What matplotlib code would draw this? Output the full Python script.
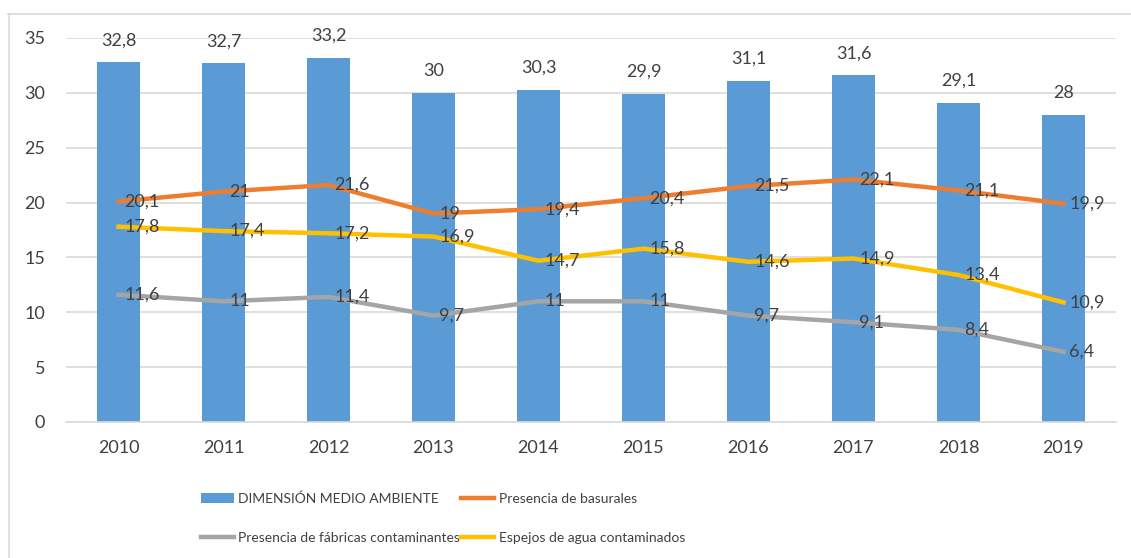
import matplotlib.pyplot as plt
from matplotlib.lines import Line2D
import numpy as np

years = ['2010', '2011', '2012', '2013', '2014', '2015', '2016', '2017', '2018', '2019']
dimension = [32.8, 32.7, 33.2, 30, 30.3, 29.9, 31.1, 31.6, 29.1, 28]
basurales = [20.1, 21, 21.6, 19, 19.4, 20.4, 21.5, 22.1, 21.1, 19.9]
fabricas = [11.6, 11, 11.4, 9.7, 11, 11, 9.7, 9.1, 8.4, 6.4]
espejos = [17.8, 17.4, 17.2, 16.9, 14.7, 15.8, 14.6, 14.9, 13.4, 10.9]

plt.rcParams['font.family'] = ['Lato', 'DejaVu Sans']
txt = '#404040'

def fmt(v):
    s = ('%g' % v)
    return s.replace('.', ',')

fig = plt.figure(figsize=(11.31, 5.58), dpi=100)
ax = fig.add_axes([66 / 1131, 136 / 558, 1050 / 1131, 384 / 558])

x = np.arange(len(years))
ax.bar(x, dimension, width=0.41, color='#5B9BD5', zorder=2,
       label='DIMENSIÓN MEDIO AMBIENTE')
ax.plot(x, basurales, color='#ED7D31', lw=3.2, zorder=3, label='Presencia de basurales')
ax.plot(x, fabricas, color='#A5A5A5', lw=3.2, zorder=3, label='Presencia de fábricas contaminantes')
ax.plot(x, espejos, color='#FFC000', lw=3.2, zorder=3, label='Espejos de agua contaminados')

# labels
for i, v in enumerate(dimension):
    ax.annotate(fmt(v), (i, v), xytext=(0, 10), textcoords='offset points',
                ha='center', va='bottom', fontsize=13, color=txt, zorder=4)
for serie in (basurales, fabricas, espejos):
    for i, v in enumerate(serie):
        ax.annotate(fmt(v), (i, v), xytext=(4, 0), textcoords='offset points',
                    ha='left', va='center', fontsize=13, color=txt, zorder=4)

ax.set_xlim(-0.5, 9.5)
ax.set_ylim(0, 35)
ax.set_yticks(range(0, 36, 5))
ax.set_xticks(x)
ax.set_xticklabels(years)
ax.yaxis.grid(True, color='#D9D9D9', lw=1.2, zorder=0)
ax.set_axisbelow(True)
for s in ['top', 'right', 'left']:
    ax.spines[s].set_visible(False)
ax.spines['bottom'].set_color('#D9D9D9')
ax.spines['bottom'].set_linewidth(1.2)
ax.tick_params(axis='both', length=0, labelsize=13, colors=txt)
ax.tick_params(axis='y', pad=15)
ax.tick_params(axis='x', pad=13)

h, l = ax.get_legend_handles_labels()
order = [3, 1, 0, 2]
h = [h[i] for i in order]
l = [l[i] for i in order]
fig.legend(h, l, ncol=2, loc='center', bbox_to_anchor=(443 / 1131, 1 - 518 / 558),
           frameon=False, labelcolor=txt, fontsize=10, handlelength=2.37,
           handletextpad=0.3, columnspacing=0.1, labelspacing=1.95)

# chart border (partly cropped)
fig.add_artist(Line2D([8 / 1131, 1], [1 - 13.5 / 558, 1 - 13.5 / 558], color='#D9D9D9', lw=1.2))
fig.add_artist(Line2D([8.5 / 1131, 8.5 / 1131], [0, 1 - 13.5 / 558], color='#D9D9D9', lw=1.2))

fig.savefig('out.png', dpi=100)
